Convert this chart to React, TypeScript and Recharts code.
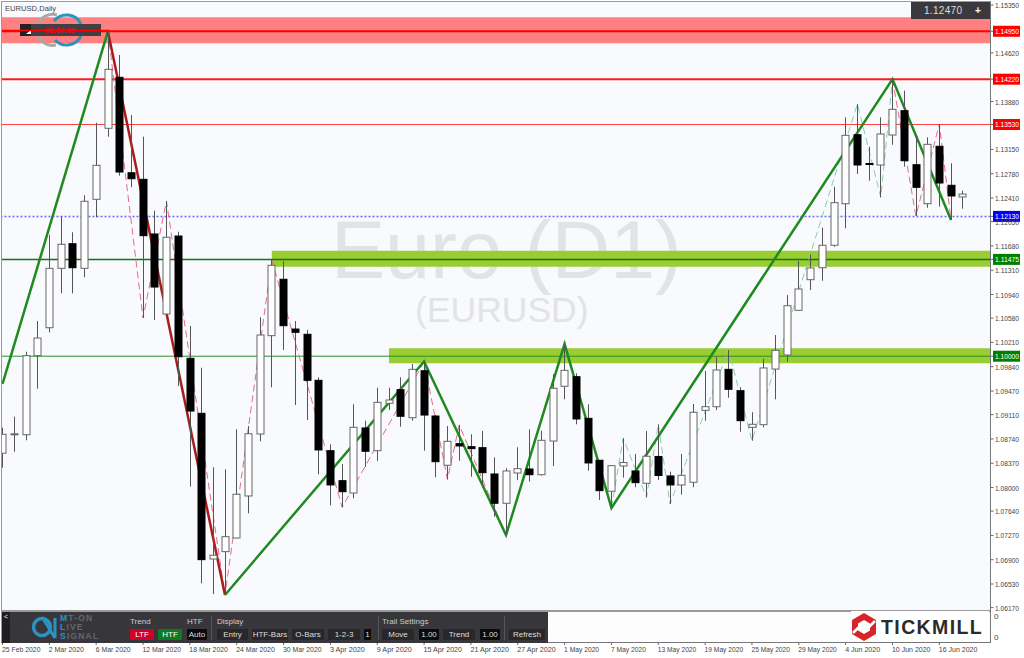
import { Bar, ComposedChart, Line, ReferenceArea, ReferenceLine, XAxis, YAxis } from 'recharts';

// daily EURUSD candles, 25 Feb 2020 to 18 Jun 2020
const opens = [
  1.08522, 1.0881, 1.08804, 1.10008, 1.10434, 1.11339, 1.11714, 1.11339, 1.1239, 1.13472, 1.14249, 1.12795, 1.12695, 1.11862,
  1.10643, 1.11831, 1.09968, 1.0913, 1.06911, 1.07023, 1.07231, 1.07871, 1.08815, 1.10313, 1.11172, 1.10414, 1.10334, 1.09633,
  1.08561, 1.08104, 1.07916, 1.08907, 1.08561, 1.09283, 1.0949, 1.09063, 1.09779, 1.09089, 1.08339, 1.08668, 1.08622, 1.08607,
  1.08206, 1.0776, 1.08221, 1.08282, 1.08195, 1.08708, 1.09542, 1.09688, 1.09054, 1.08415, 1.07943, 1.08328, 1.08252, 1.08064,
  1.08473, 1.08176, 1.08039, 1.0808, 1.09176, 1.09231, 1.098, 1.09475, 1.08917, 1.08957, 1.09805, 1.10018, 1.10699, 1.11166,
  1.11348, 1.1169, 1.12323, 1.13374, 1.12936, 1.12913, 1.1337, 1.1374, 1.12917, 1.12323, 1.13198, 1.12604, 1.12426,
];
const highs = [
  1.08911, 1.09079, 1.10068, 1.10536, 1.11847, 1.12136, 1.11888, 1.12451, 1.13557, 1.14958, 1.14588, 1.13674, 1.13344, 1.12217,
  1.12364, 1.11897, 1.1046, 1.09825, 1.08308, 1.08278, 1.08887, 1.08937, 1.10593, 1.11466, 1.1145, 1.10536, 1.10399, 1.09679,
  1.08658, 1.08358, 1.09267, 1.09018, 1.0952, 1.0952, 1.09679, 1.09881, 1.09916, 1.09104, 1.08937, 1.08953, 1.08811, 1.08861,
  1.0846, 1.08293, 1.08613, 1.08887, 1.08866, 1.09729, 1.10191, 1.0974, 1.09267, 1.08419, 1.08343, 1.0875, 1.08511, 1.08861,
  1.08963, 1.08241, 1.08511, 1.09272, 1.09775, 1.09992, 1.10095, 1.09527, 1.09146, 1.09958, 1.10323, 1.10932, 1.1145, 1.11553,
  1.11958, 1.12582, 1.13639, 1.13842, 1.13191, 1.13639, 1.14218, 1.14044, 1.1337, 1.13335, 1.13537, 1.12939, 1.12521,
];
const lows = [
  1.08302, 1.08546, 1.08719, 1.09505, 1.10364, 1.10959, 1.10959, 1.11203, 1.12116, 1.13344, 1.1275, 1.12573, 1.10582, 1.10552,
  1.10643, 1.09546, 1.08013, 1.06541, 1.06378, 1.06363, 1.07227, 1.07607, 1.08704, 1.09527, 1.10095, 1.09257, 1.09028, 1.08201,
  1.07729, 1.07699, 1.07836, 1.08313, 1.08404, 1.09181, 1.08926, 1.09018, 1.08561, 1.08156, 1.08125, 1.08409, 1.08165, 1.08039,
  1.07556, 1.07277, 1.08115, 1.08089, 1.08181, 1.08328, 1.09344, 1.08963, 1.08256, 1.0781, 1.07699, 1.08151, 1.08005, 1.07851,
  1.08115, 1.07749, 1.07891, 1.08005, 1.09018, 1.09181, 1.09368, 1.0885, 1.08713, 1.08917, 1.09344, 1.09916, 1.10689, 1.11009,
  1.1115, 1.11668, 1.11949, 1.12776, 1.12674, 1.12421, 1.13222, 1.12887, 1.12136, 1.12262, 1.12278, 1.12075, 1.12247,
];
const closes = [
  1.08811, 1.08818, 1.10008, 1.10277, 1.11339, 1.11705, 1.11348, 1.1236, 1.12908, 1.1437, 1.12806, 1.12704, 1.11836, 1.11054,
  1.11812, 1.09992, 1.09165, 1.06901, 1.06968, 1.07251, 1.07897, 1.08819, 1.10323, 1.11385, 1.10465, 1.10364, 1.09633, 1.08572,
  1.08039, 1.07936, 1.08917, 1.08552, 1.09298, 1.09333, 1.09085, 1.098, 1.09104, 1.08393, 1.08704, 1.08633, 1.08592, 1.08226,
  1.0776, 1.08252, 1.08287, 1.08195, 1.08719, 1.09512, 1.09785, 1.09044, 1.08374, 1.07952, 1.08333, 1.0838, 1.08074, 1.08476,
  1.08183, 1.08039, 1.08186, 1.09146, 1.09231, 1.0979, 1.09496, 1.09018, 1.08963, 1.09821, 1.1009, 1.10769, 1.11024, 1.11344,
  1.1169, 1.12339, 1.13365, 1.12913, 1.12928, 1.13385, 1.13761, 1.12978, 1.12573, 1.13228, 1.12639, 1.12441, 1.1247,
];

// trend lines: candle index and price of each pivot
const htfRiseIdx = [0, 9];
const htfRiseVals = [1.09577, 1.1495];
const htfDropIdx = [9, 19];
const htfDropVals = [1.1495, 1.06363];
const htfSwingIdx = [19, 36, 43, 48, 52, 76, 81];
const htfSwingVals = [1.06363, 1.0992, 1.07277, 1.10186, 1.07688, 1.14222, 1.12075];
const ltfRedIdx = [9, 12, 14, 19, 23, 29, 36, 38, 39, 43];
const ltfRedVals = [1.1495, 1.10582, 1.12364, 1.06363, 1.11466, 1.07699, 1.09916, 1.08125, 1.08953, 1.07277];
const ltfGreenIdx = [52, 53, 55, 56, 57, 62, 64, 73, 75, 76];
const ltfGreenVals = [1.07688, 1.0875, 1.07851, 1.08963, 1.07749, 1.10095, 1.08713, 1.13842, 1.12421, 1.14222];
const ltfEndIdx = [76, 78, 80, 81];
const ltfEndVals = [1.14222, 1.12136, 1.13537, 1.12075];

const dateTicks = [0, 4, 8, 12, 16, 20, 24, 28, 32, 36, 40, 44, 48, 52, 56, 60, 64, 68, 72, 76, 80];
const dateLabels = [
  '25 Feb 2020', '2 Mar 2020', '6 Mar 2020', '12 Mar 2020', '18 Mar 2020', '24 Mar 2020', '30 Mar 2020',
  '3 Apr 2020', '9 Apr 2020', '15 Apr 2020', '21 Apr 2020', '27 Apr 2020', '1 May 2020', '7 May 2020',
  '13 May 2020', '19 May 2020', '25 May 2020', '29 May 2020', '4 Jun 2020', '10 Jun 2020', '16 Jun 2020',
];
const priceTicks = [
  1.1535, 1.1495, 1.1462, 1.1422, 1.1388, 1.1353, 1.1315, 1.1278, 1.1241, 1.1213, 1.1205, 1.1168, 1.11475, 1.1131,
  1.1094, 1.1058, 1.1021, 1.1, 1.0984, 1.0947, 1.0911, 1.0874, 1.0837, 1.08, 1.0764, 1.0727, 1.069, 1.0653, 1.0617,
];
const levelColors: Record<string, string> = {
  '1.14950': '#ff0000',
  '1.14220': '#ff0000',
  '1.13530': '#ff0000',
  '1.12130': '#0000ff',
  '1.11475': '#008000',
  '1.10000': '#008000',
};

const pick = (idx: number[], vals: number[], i: number) => {
  const at = idx.indexOf(i);
  return at < 0 ? null : vals[at];
};

const rows = opens.map((open, i) => ({
  idx: i,
  open,
  high: highs[i],
  low: lows[i],
  close: closes[i],
  range: [lows[i], highs[i]],
  htfRise: pick(htfRiseIdx, htfRiseVals, i),
  htfDrop: pick(htfDropIdx, htfDropVals, i),
  htfSwing: pick(htfSwingIdx, htfSwingVals, i),
  ltfRed: pick(ltfRedIdx, ltfRedVals, i),
  ltfGreen: pick(ltfGreenIdx, ltfGreenVals, i),
  ltfEnd: pick(ltfEndIdx, ltfEndVals, i),
}));

const axisFont = '"Liberation Sans", Arial, sans-serif';

function Candle(props: any) {
  const { x, y, width, height, payload } = props;
  const { open, high, low, close } = payload;
  const toY = (p: number) => y + ((high - p) / (high - low)) * height;
  const cx = Math.floor(x + width / 2) + 0.5;
  const top = toY(Math.max(open, close));
  const bottom = toY(Math.min(open, close));
  const up = close >= open;
  return (
    <g>
      <line x1={cx} x2={cx} y1={y} y2={y + height} stroke="#555" strokeWidth={1} />
      <rect
        x={cx - 3.5}
        y={top}
        width={7}
        height={Math.max(bottom - top, 1)}
        fill={up ? '#fff' : '#000'}
        stroke={up ? '#666' : '#000'}
        strokeWidth={1}
      />
    </g>
  );
}

function PriceTick(props: any) {
  const { x, y, payload } = props;
  const label = payload.value.toFixed(5);
  const bg = levelColors[label];
  return (
    <g fontFamily={axisFont} fontSize={8}>
      <line x1={x} x2={x + 3} y1={y} y2={y} stroke="#666" />
      {bg && <rect x={x + 2.5} y={y - 5.5} width={27} height={11} fill={bg} />}
      <text x={x + 4.5} y={y + 3} fill={bg ? '#fff' : '#444'} textLength={24} lengthAdjust="spacingAndGlyphs">
        {label}
      </text>
    </g>
  );
}

function DateTick(props: any) {
  const { x, y, payload } = props;
  const label = dateLabels[dateTicks.indexOf(payload.value)];
  return (
    <g fontFamily={axisFont} fontSize={8}>
      <line x1={x} x2={x} y1={y + 32} y2={y + 35} stroke="#666" />
      <text x={x - 0.5} y={y + 42} fill="#444" textLength={label.length * 3.5} lengthAdjust="spacingAndGlyphs">
        {label}
      </text>
    </g>
  );
}

function ToolButton({ left, width, label, bg, color = '#ddd' }: { left: number; width: number; label: string; bg: string; color?: string }) {
  return (
    <div
      style={{
        position: 'absolute',
        left,
        top: 629,
        width,
        height: 11,
        lineHeight: '11px',
        background: bg,
        color,
        fontSize: 8,
        textAlign: 'center',
        borderRadius: 1,
      }}
    >
      {label}
    </div>
  );
}

function ToolLabel({ left, label }: { left: number; label: string }) {
  return <div style={{ position: 'absolute', left, top: 617, fontSize: 8, lineHeight: '10px', color: '#ccc', whiteSpace: 'nowrap' }}>{label}</div>;
}

function Overlays() {
  return (
    <div style={{ position: 'absolute', left: 0, top: 0, width: 1024, height: 658, fontFamily: axisFont, pointerEvents: 'none' }}>
      {/* frame */}
      <div style={{ position: 'absolute', left: 0, top: 0, width: 1.5, height: 643, background: '#fff' }} />
      <div style={{ position: 'absolute', left: 1, top: 1, width: 1, height: 641, background: '#9a9a9a' }} />
      <div style={{ position: 'absolute', left: 1, top: 1, width: 990, height: 1, background: '#9a9a9a' }} />
      <div style={{ position: 'absolute', left: 1, top: 610, width: 990, height: 2, background: '#9a9a9a' }} />
      <div style={{ position: 'absolute', left: 990, top: 1, width: 1, height: 642, background: '#777' }} />
      <div style={{ position: 'absolute', left: 2, top: 612, width: 988, height: 30, background: '#fdfdfd' }} />
      <div style={{ position: 'absolute', left: 1, top: 642, width: 990, height: 1, background: '#777' }} />
      <div style={{ position: 'absolute', left: 5, top: 3, fontSize: 7.6, lineHeight: '11px', color: '#444' }}>EURUSD,Daily</div>

      {/* session clock and logo rings */}
      <svg width={120} height={55} style={{ position: 'absolute', left: 0, top: 0 }}>
        <g fill="none" strokeWidth={3}>
          <path d="M38 24 A16 16 0 0 1 57 15" stroke="#a8a8a8" />
          <path d="M38 36 A16 16 0 0 0 56 45" stroke="#a8a8a8" />
          <path d="M54 21 A16 16 0 0 1 81 24" stroke="#2a93c0" />
          <path d="M55 40 A16 16 0 0 0 81 36" stroke="#2a93c0" />
        </g>
        <rect x={20} y={24} width={81} height={12} fill="#3f3f44" />
        <rect x={20} y={24} width={11} height={12} fill="#222" />
        <path d="M26 34 L31 34 L31 30 Z" fill="#fff" />
        <line x1={2} x2={110} y1={30.5} y2={30.5} stroke="#ff0000" strokeWidth={1.5} />
        <text x={45} y={33} fontSize={7.5} fontWeight={700} fill="#e01020">
          06:37:09
        </text>
      </svg>

      {/* live price box */}
      <div style={{ position: 'absolute', left: 911, top: 2, width: 79, height: 17, background: '#3a3a3e' }}>
        <div style={{ position: 'absolute', left: 13, top: 3, fontSize: 10, lineHeight: '11px', color: '#ddd', letterSpacing: 0.3 }}>1.12470</div>
        <div style={{ position: 'absolute', left: 64, top: 3, fontSize: 10, lineHeight: '11px', color: '#fff', fontWeight: 700 }}>+</div>
      </div>

      {/* toolbar */}
      <div style={{ position: 'absolute', left: 2, top: 612, width: 546, height: 31, background: '#37373b' }} />
      <div style={{ position: 'absolute', left: 2, top: 612, width: 8, height: 31, background: '#1f1f22' }} />
      <div style={{ position: 'absolute', left: 4, top: 612, fontSize: 7, lineHeight: '10px', color: '#fff' }}>&lt;</div>
      <svg width={40} height={31} style={{ position: 'absolute', left: 28, top: 612 }}>
        <circle cx={14} cy={15} r={8.5} fill="none" stroke="#2a93c0" strokeWidth={3.5} />
        <path d="M14 5 L27 26 M27 6 L27 26" fill="none" stroke="#2a93c0" strokeWidth={3} />
      </svg>
      {[
        ['M', 'T-ON', 614],
        ['L', 'IVE', 623],
        ['S', 'IGNAL', 632],
      ].map(([first, rest, top]) => (
        <div
          key={String(first)}
          style={{ position: 'absolute', left: 60, top: Number(top), fontSize: 8.5, lineHeight: '9px', fontWeight: 700, letterSpacing: 1.2, color: '#66666b' }}
        >
          <span style={{ color: '#2a93c0' }}>{first}</span>
          {rest}
        </div>
      ))}
      <ToolLabel left={130} label="Trend" />
      <ToolLabel left={187} label="HTF" />
      <ToolLabel left={217} label="Display" />
      <ToolLabel left={382} label="Trail Settings" />
      <ToolButton left={130} width={24} label="LTF" bg="#d00028" color="#fff" />
      <ToolButton left={158} width={24} label="HTF" bg="#0f7a1e" color="#fff" />
      <ToolButton left={187} width={20} label="Auto" bg="#0b0b0b" />
      <ToolButton left={217} width={31} label="Entry" bg="#28282b" />
      <ToolButton left={252} width={36} label="HTF-Bars" bg="#28282b" />
      <ToolButton left={292} width={32} label="O-Bars" bg="#28282b" />
      <ToolButton left={328} width={32} label="1-2-3" bg="#28282b" />
      <ToolButton left={364} width={7} label="1" bg="#0b0b0b" />
      <ToolButton left={382} width={32} label="Move" bg="#28282b" />
      <ToolButton left={419} width={20} label="1.00" bg="#0b0b0b" />
      <ToolButton left={443} width={32} label="Trend" bg="#28282b" />
      <ToolButton left={480} width={20} label="1.00" bg="#0b0b0b" />
      <ToolButton left={509} width={36} label="Refresh" bg="#28282b" />
      <div style={{ position: 'absolute', left: 211, top: 616, width: 1, height: 24, background: '#55555a' }} />
      <div style={{ position: 'absolute', left: 378, top: 616, width: 1, height: 24, background: '#55555a' }} />
      <div style={{ position: 'absolute', left: 504, top: 616, width: 1, height: 24, background: '#55555a' }} />

      {/* broker logo */}
      <div style={{ position: 'absolute', left: 851, top: 611, width: 138, height: 31, background: '#fff' }} />
      <svg width={28} height={30} style={{ position: 'absolute', left: 850, top: 612 }}>
        <polygon points="14,1 26,8 26,22 14,29 2,22 2,8" fill="#d8232a" />
        <polygon points="14,8 20,11.5 20,18.5 14,22 8,18.5 8,11.5" fill="#fff" />
        <path d="M3 21 L11 13 M17 17 L25 9" stroke="#fff" strokeWidth={2.5} />
      </svg>
      <div style={{ position: 'absolute', left: 881, top: 615, fontSize: 19.5, lineHeight: '24px', fontWeight: 700, letterSpacing: 1.4, color: '#2b2b2b' }}>TICKMILL</div>
      <div style={{ position: 'absolute', left: 994, top: 612, fontSize: 8, lineHeight: '10px', color: '#444' }}>0</div>
      <div style={{ position: 'absolute', left: 994, top: 633, fontSize: 8, lineHeight: '10px', color: '#444' }}>0</div>
    </div>
  );
}

export default function App() {
  return (
    <div style={{ position: 'absolute', left: 0, top: 0, width: 1024, height: 658, background: '#fff', overflow: 'hidden' }}>
      <div style={{ position: 'absolute', left: 2, top: 2, width: 988, height: 608, background: '#f8fafd' }} />
      {/* watermark sits behind the chart */}
      <div
        style={{
          position: 'absolute',
          left: 331,
          top: 200,
          fontFamily: axisFont,
          fontSize: 81,
          lineHeight: '100px',
          color: '#e2e3e5',
          whiteSpace: 'nowrap',
        }}
      >
        Euro (D1)
      </div>
      <div
        style={{
          position: 'absolute',
          left: 415,
          top: 286,
          fontFamily: axisFont,
          fontSize: 35.5,
          lineHeight: '48px',
          color: '#e2e3e5',
          whiteSpace: 'nowrap',
        }}
      >
        (EURUSD)
      </div>
      <ComposedChart
        width={1024}
        height={658}
        data={rows}
        margin={{ top: 2, right: 0, bottom: 0, left: 2 }}
        style={{ position: 'absolute', left: 0, top: 0 }}
      >
        <XAxis
          dataKey="idx"
          type="number"
          domain={[-0.0427, 84.37]}
          allowDataOverflow
          ticks={dateTicks}
          interval={0}
          height={48}
          axisLine={false}
          tickLine={false}
          tickSize={0}
          tickMargin={0}
          tick={<DateTick />}
        />
        <YAxis
          orientation="right"
          type="number"
          domain={[1.06134, 1.15396]}
          allowDataOverflow
          ticks={priceTicks}
          interval={0}
          width={33.5}
          axisLine={false}
          tickLine={false}
          tickSize={0}
          tickMargin={0}
          tick={<PriceTick />}
        />
        <ReferenceArea y1={1.14766} y2={1.15162} x1={-0.0427} x2={84.37} fill="#ff8080" fillOpacity={1} stroke="none" />
        <ReferenceArea y1={1.11364} y2={1.11607} x1={23} x2={84.37} fill="#9acd32" fillOpacity={1} stroke="none" />
        <ReferenceArea y1={1.09892} y2={1.10121} x1={33} x2={84.37} fill="#9acd32" fillOpacity={1} stroke="none" />
        <ReferenceLine y={1.1495} stroke="#ff0000" strokeWidth={2} />
        <ReferenceLine y={1.1422} stroke="#ff1a1a" strokeWidth={2} />
        <ReferenceLine y={1.1353} stroke="#ff4040" strokeWidth={1} />
        <ReferenceLine y={1.1213} stroke="#6a6aff" strokeWidth={1.5} strokeDasharray="2 2" />
        <ReferenceLine y={1.11475} stroke="#0a7a0a" strokeWidth={1.5} />
        <ReferenceLine y={1.1} stroke="#2a8f2a" strokeWidth={1} />
        <Line dataKey="ltfRed" stroke="#e86a88" strokeWidth={1} strokeDasharray="7 4" dot={false} connectNulls isAnimationActive={false} />
        <Line dataKey="ltfGreen" stroke="#88d0a8" strokeWidth={1} strokeDasharray="7 4" dot={false} connectNulls isAnimationActive={false} />
        <Line dataKey="ltfEnd" stroke="#e86a88" strokeWidth={1} strokeDasharray="7 4" dot={false} connectNulls isAnimationActive={false} />
        <Line dataKey="htfRise" stroke="#1f8a1f" strokeWidth={2.5} dot={false} connectNulls isAnimationActive={false} />
        <Line dataKey="htfDrop" stroke="#a81c1c" strokeWidth={2.5} dot={false} connectNulls isAnimationActive={false} />
        <Line dataKey="htfSwing" stroke="#1f8a1f" strokeWidth={2.5} dot={false} connectNulls isAnimationActive={false} />
        <Bar dataKey="range" barSize={8} shape={<Candle />} isAnimationActive={false} zIndex={600} />
      </ComposedChart>
      <Overlays />
    </div>
  );
}
